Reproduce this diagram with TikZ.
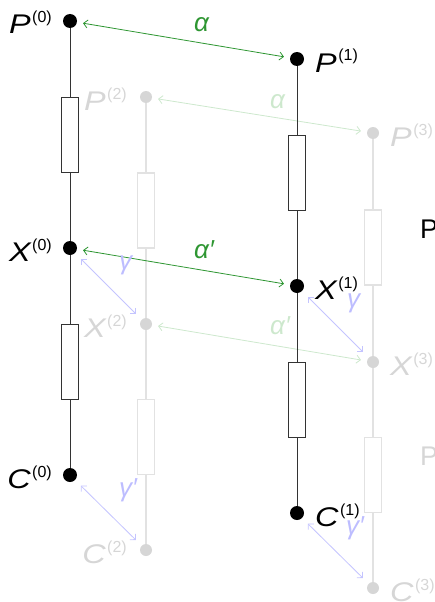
\documentclass[tikz,border=0pt]{standalone}
\usepackage{fontspec}
\setmainfont{Liberation Sans}
\usetikzlibrary{arrows.meta,calc}
\definecolor{gr}{HTML}{2E9632}
\definecolor{lgr}{HTML}{CDE8CD}
\definecolor{lbl}{HTML}{C4C4FF}
\definecolor{lblt}{HTML}{BDBDFF}
\definecolor{lgray}{HTML}{D6D6D6}
\definecolor{lwire}{HTML}{E2E2E2}
\definecolor{ltext}{HTML}{D6D6D6}
\newcommand{\lab}[2]{\scalebox{1.2}[1]{\itshape #1}\kern1.5pt\raisebox{11pt}{\fontsize{16}{16}\selectfont(#2)}}
\begin{document}
\begin{tikzpicture}[x=1pt,y=-1pt,
  dotb/.style={circle,fill=black,inner sep=0,minimum size=14pt},
  dotg/.style={circle,fill=lgray,inner sep=0,minimum size=12pt},
  resb/.style={draw=black!80,fill=white,line width=1pt,minimum width=17pt,minimum height=75pt,inner sep=0},
  resg/.style={draw=lwire,fill=white,line width=1.2pt,minimum width=17pt,minimum height=75pt,inner sep=0},
  wireb/.style={draw=black!80,line width=1pt},
  wireg/.style={draw=lwire,line width=1.3pt},
  big/.style={font=\fontsize{26}{26}\selectfont,inner sep=0},
  lab/.style={font=\fontsize{27}{27}\selectfont,inner sep=0},
  labb/.style={lab,text=black},
  labg/.style={lab,text=ltext},
  tip/.style={{Straight Barb[length=4pt,width=8pt]}-{Straight Barb[length=4pt,width=8pt]}},
  garrow/.style={tip,draw=gr,line width=0.8pt,shorten <=6pt,shorten >=6pt},
  lgarrow/.style={tip,draw=lgr,line width=0.8pt,shorten <=6pt,shorten >=6pt},
  barrow/.style={tip,draw=lbl,line width=0.8pt,shorten <=8pt,shorten >=8pt},
]
\useasboundingbox (0,0) rectangle (434,602);
% dots
\node[dotg] (P2) at (146,97) {};
\node[dotg] (X2) at (146,324) {};
\node[dotg] (C2) at (146,550) {};
\node[dotg] (P3) at (373,133) {};
\node[dotg] (X3) at (373,362) {};
\node[dotg] (C3) at (373,588) {};
% gray layer
\draw[wireg] (P2) -- (X2) -- (C2);
\draw[wireg] (P3) -- (X3) -- (C3);
\node[resg] (R2a) at ($(P2)!0.5!(X2)$) {};
\node[resg] (R2b) at ($(X2)!0.5!(C2)$) {};
\node[resg] (R3a) at ($(P3)!0.5!(X3)$) {};
\node[resg] (R3b) at ($(X3)!0.5!(C3)$) {};
\node[labg,anchor=base east] (LP2) at ([shift={(-19,13)}]P2.center) {\lab{P}{2}};
\node[labg,anchor=base east] (LX2) at ([shift={(-19,13)}]X2.center) {\lab{X}{2}};
\node[labg,anchor=base east] (LC2) at ([shift={(-19,13)}]C2.center) {\lab{C}{2}};
\node[labg,anchor=base west] (LP3) at ([shift={(17,13)}]P3.center) {\lab{P}{3}};
\node[labg,anchor=base west] (LX3) at ([shift={(17,13)}]X3.center) {\lab{X}{3}};
\node[labg,anchor=base west] (LC3) at ([shift={(17,13)}]C3.center) {\lab{C}{3}};
\draw[lgarrow] (P2) -- (P3);
\draw[lgarrow] (X2) -- (X3);
\node[big,text=lgr,anchor=base west] (A2) at ([shift={(124,11)}]P2.center) {\itshape α};
\node[big,text=lgr,anchor=base west] (A2p) at ([shift={(124,10)}]X2.center) {\itshape α\char"2032};
\node[lab,text=ltext,anchor=base west] (Pback) at (420,465) {P};
% black layer
\node[dotb] (P0) at (70,21) {};
\node[dotb] (X0) at (70,248) {};
\node[dotb] (C0) at (70,475) {};
\node[dotb] (P1) at (297,59) {};
\node[dotb] (X1) at (297,286) {};
\node[dotb] (C1) at (297,513) {};
\draw[wireb] (P0) -- (X0) -- (C0);
\draw[wireb] (P1) -- (X1) -- (C1);
\node[resb] (R0a) at ($(P0)!0.5!(X0)$) {};
\node[resb] (R0b) at ($(X0)!0.5!(C0)$) {};
\node[resb] (R1a) at ($(P1)!0.5!(X1)$) {};
\node[resb] (R1b) at ($(X1)!0.5!(C1)$) {};
\node[labb,anchor=base east] (LP0) at ([shift={(-18,13)}]P0.center) {\lab{P}{0}};
\node[labb,anchor=base east] (LX0) at ([shift={(-18,13)}]X0.center) {\lab{X}{0}};
\node[labb,anchor=base east] (LC0) at ([shift={(-18,13)}]C0.center) {\lab{C}{0}};
\node[labb,anchor=base west] (LP1) at ([shift={(18,13)}]P1.center) {\lab{P}{1}};
\node[labb,anchor=base west] (LX1) at ([shift={(18,13)}]X1.center) {\lab{X}{1}};
\node[labb,anchor=base west] (LC1) at ([shift={(18,13)}]C1.center) {\lab{C}{1}};
\draw[garrow] (P0) -- (P1);
\draw[garrow] (X0) -- (X1);
\node[big,text=gr,anchor=base west] (A0) at ([shift={(124,11)}]P0.center) {\itshape α};
\node[big,text=gr,anchor=base west] (A0p) at ([shift={(124,10)}]X0.center) {\itshape α\char"2032};
\node[labb,anchor=base west] (Pfront) at (420,238) {P};
% gamma arrows
\draw[barrow] (X0) -- (X2);
\draw[barrow] (X1) -- (X3);
\draw[barrow] (C0) -- (C2);
\draw[barrow] (C1) -- (C3);
\node[big,text=lblt,anchor=base west] (G0) at ([shift={(49,21)}]X0.center) {\itshape γ};
\node[big,text=lblt,anchor=base west] (G1) at ([shift={(50,21)}]X1.center) {\itshape γ};
\node[big,text=lblt,anchor=base west] (G0p) at ([shift={(49,21)}]C0.center) {\itshape γ\char"2032};
\node[big,text=lblt,anchor=base west] (G1p) at ([shift={(49,21)}]C1.center) {\itshape γ\char"2032};
\end{tikzpicture}
\end{document}
